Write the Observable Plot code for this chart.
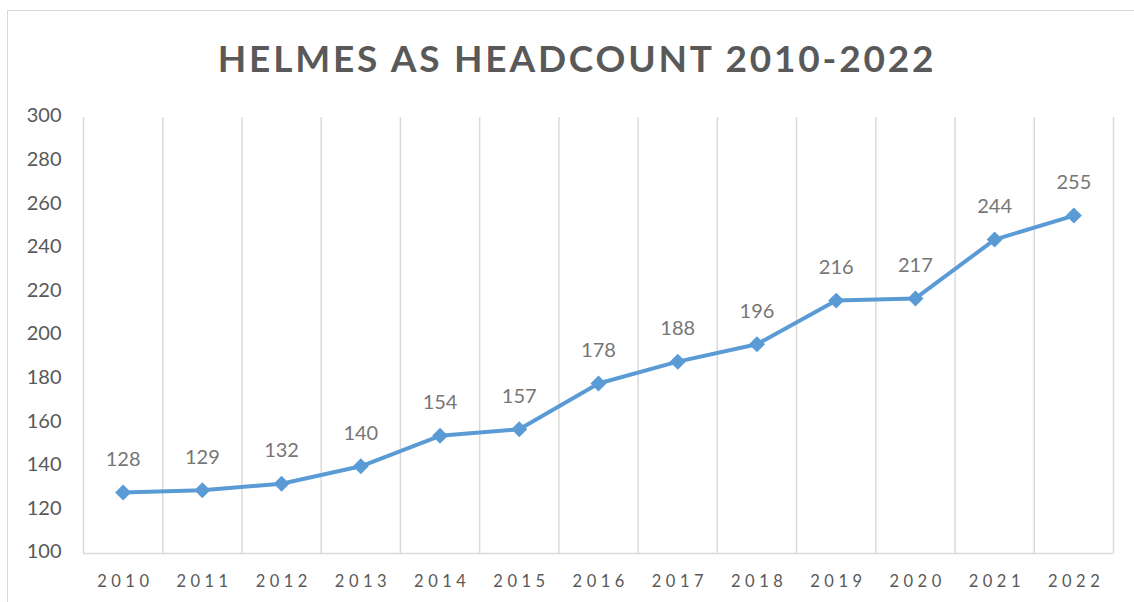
<!DOCTYPE html>
<html>
<head>
<meta charset="utf-8">
<script src="https://cdn.jsdelivr.net/npm/d3@7"></script>
<script src="https://cdn.jsdelivr.net/npm/@observablehq/plot@0.6"></script>
<style>
  html, body { margin: 0; padding: 0; background: #fff; }
  #wrap { position: relative; width: 1134px; height: 602px; overflow: hidden; background: #fff; font-family: Lato, "Open Sans", sans-serif; }
  #border { position: absolute; left: 7px; top: 10px; width: 1200px; height: 800px; border: 1.5px solid #d9d9d9; pointer-events: none; z-index: 2; }
  #title { position: absolute; left: 10px; top: 39px; width: 1134px; text-align: center; font-size: 37px; line-height: 37px; font-weight: 700; color: #595959; letter-spacing: 2.8px; z-index: 1; }
  #chart { position: absolute; left: 0; top: 95px; }
  #chart svg { background: transparent; }
  g[aria-label="x-axis tick label"] text { letter-spacing: 4.5px; }
</style>
</head>
<body>
<div id="wrap">
  <div id="title">HELMES AS HEADCOUNT 2010-2022</div>
  <div id="chart"></div>
  <div id="border"></div>
</div>
<script>
const years = [2010, 2011, 2012, 2013, 2014, 2015, 2016, 2017, 2018, 2019, 2020, 2021, 2022];
const headcount = [128, 129, 132, 140, 154, 157, 178, 188, 196, 216, 217, 244, 255];
const yTicks = [100, 120, 140, 160, 180, 200, 220, 240, 260, 280, 300];

const data = years.map((year, i) => ({year, headcount: headcount[i]}));
const boundaries = years.map(y => y - 0.5).concat([years[years.length - 1] + 0.5]);

const chart = Plot.plot({
  width: 1134,
  height: 507,
  marginTop: 22,
  marginBottom: 49,
  marginLeft: 83,
  marginRight: 21,
  style: { fontFamily: "Lato, 'Open Sans', sans-serif", background: "transparent" },
  x: { domain: [years[0] - 0.5, years[years.length - 1] + 0.5], label: null },
  y: { domain: [100, 300], label: null },
  marks: [
    Plot.ruleX(boundaries, { stroke: "#d9d9d9", strokeWidth: 1.5 }),
    Plot.ruleY([100], { stroke: "#d9d9d9", strokeWidth: 1.5 }),
    Plot.axisY({ ticks: yTicks, tickSize: 0, tickPadding: 22, fontSize: 20, fill: "#595959", dy: -1.5, label: null }),
    Plot.axisX({ ticks: years, tickFormat: d => String(d), tickSize: 0, tickPadding: 22, fontSize: 16.5, fill: "#595959", dx: 2.2, label: null }),
    Plot.line(data, { x: "year", y: "headcount", stroke: "#5B9BD5", strokeWidth: 4 }),
    Plot.dot(data, { x: "year", y: "headcount", symbol: "diamond2", r: 7.2, fill: "#5B9BD5", stroke: "none" }),
    Plot.text(data, { x: "year", y: "headcount", text: d => String(d.headcount), dy: -33, fontSize: 20, fill: "#767676" })
  ]
});
document.getElementById("chart").appendChild(chart);
</script>
</body>
</html>
